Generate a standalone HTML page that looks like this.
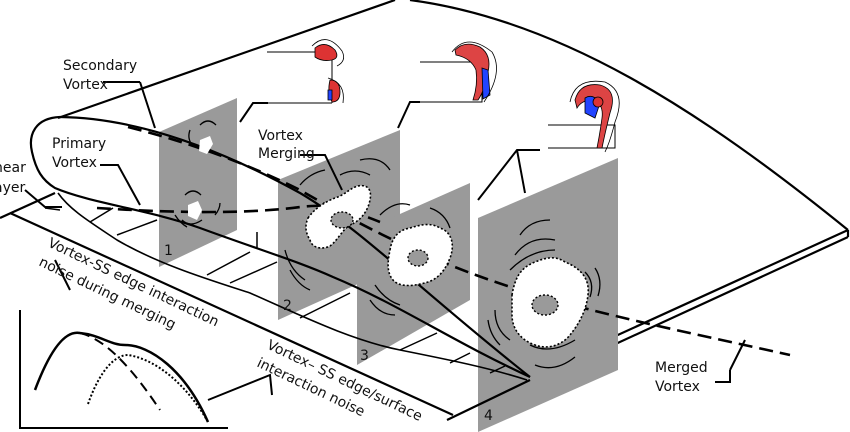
<!DOCTYPE html>
<html><head><meta charset="utf-8"><style>
html,body{margin:0;padding:0;background:#fff}
svg{display:block}
text{font-family:"DejaVu Sans","Liberation Sans",sans-serif;font-size:14px;fill:#111}
</style></head><body>
<svg width="850" height="432" viewBox="0 0 850 432" xmlns="http://www.w3.org/2000/svg">
<g fill="none" stroke="#000" stroke-width="2.2">
<path d="M58,118 L395,0"/>
<path d="M410,0 C560,20 700,110 848,230"/>
<path d="M848,230 L530,375 M848,237 L533,382 M848,230 L848,237 M530,375 L533,382"/>
</g>
<g fill="#9a9a9a">
<polygon points="159,132 237,98 237,230 159,267"/>
<polygon points="278,180 400,130 400,265 278,320"/>
<polygon points="357,233 470,183 470,300 357,365"/>
<polygon points="478,218 618,158 618,370 478,432"/>
</g>
<g fill="none" stroke="#000" stroke-width="2.2">
<path d="M60,117 C150,118 240,160 300,193 C360,228 420,290 530,377"/>
<path d="M60,117 C35,118 28,135 32,152 C36,170 42,180 55,188 C90,203 150,210 200,228 C260,250 300,262 333,277 C400,305 450,340 530,377"/>
<path d="M0,218 L55,193"/>
<path d="M10,213 L453,415"/>
<path d="M447,420 L530,380"/>
</g>
<g fill="none" stroke="#000" stroke-width="1.6">
<path d="M58,193 C70,210 90,222 117,240 C160,265 210,280 250,293 C300,315 350,340 400,350 C450,360 490,368 527,380"/>
</g>
<g fill="none" stroke="#000" stroke-width="1.5">
<path d="M113,208 L90,222"/><path d="M157,220 L117,235"/><path d="M250,252 L207,275"/>
<path d="M277,262 L230,283"/><path d="M350,293 L300,318"/><path d="M437,333 L400,350"/>
<path d="M470,353 L450,363"/><path d="M505,366 L490,373"/><path d="M257,232 L257,248"/>
<path d="M45,208 L60,210"/>
</g>
<g fill="none" stroke="#000" stroke-width="2.6" stroke-dasharray="14,7">
<path d="M128,127 C180,140 240,160 300,190 C360,225 430,262 520,290 C600,315 700,335 790,355"/>
<path d="M97,208 C160,212 240,215 300,207 C330,203 350,210 380,222"/>
</g>
<g stroke="#000" stroke-width="1.6" stroke-dasharray="2,2" fill="#fff">
<path d="M308,218 C315,208 325,202 335,198 C345,195 350,188 358,186 C368,184 372,190 370,200 C368,210 362,220 350,225 C342,230 338,240 330,246 C322,250 312,248 310,240 C305,232 305,225 308,218 Z"/>
<path d="M390,250 C392,238 398,230 410,228 C420,225 430,222 440,228 C452,232 455,245 450,258 C446,268 440,278 428,282 C415,286 400,288 393,280 C386,272 388,260 390,250 Z"/>
<path d="M512,295 C515,278 520,268 535,262 C545,258 555,255 565,262 C580,268 590,278 588,295 C586,312 578,325 570,335 C562,345 548,350 535,345 C520,340 512,328 512,315 Z"/>
</g>
<g stroke="#000" stroke-width="1.4" stroke-dasharray="2,2" fill="#9a9a9a">
<ellipse cx="342" cy="220" rx="11" ry="8"/><ellipse cx="418" cy="258" rx="10" ry="8"/><ellipse cx="545" cy="305" rx="13" ry="10"/>
</g>
<g fill="#fff"><path d="M200,140 l10,-4 l3,8 l-6,10 l-8,-3z"/><path d="M188,205 l10,-4 l4,9 l-5,10 l-9,-4z"/></g>
<g fill="none" stroke="#000" stroke-width="1.3">
<path d="M300,185 q10,-12 25,-15"/><path d="M340,175 q15,-8 30,0"/><path d="M360,160 q20,-5 30,10"/>
<path d="M285,250 q5,20 20,30"/><path d="M290,270 q8,15 20,20"/><path d="M380,215 q15,-15 30,-10"/>
<path d="M430,208 q15,5 20,20"/><path d="M375,285 q10,15 25,20"/><path d="M370,300 q10,15 25,15"/>
<path d="M520,235 q10,-15 30,-15"/><path d="M515,255 q15,-20 40,-15"/><path d="M510,270 q20,-20 45,-20"/>
<path d="M585,272 q10,10 5,25"/><path d="M595,268 q8,12 3,28"/><path d="M495,310 q0,20 15,30"/><path d="M488,320 q2,15 12,25"/>
<path d="M530,345 q20,10 45,-5"/><path d="M535,365 q20,8 40,-8"/>
<path d="M200,125 q8,-8 16,0"/><path d="M185,195 q8,-8 16,0"/><path d="M182,220 q8,8 20,0"/>
<path d="M175,215 q5,8 12,12"/><path d="M215,215 q5,-6 5,-12"/><path d="M190,130 q-3,8 2,15"/>
</g>
<g fill="none" stroke="#000" stroke-width="1">
<path d="M267,52 H332 V103 M253,103 H332"/>
<path d="M420,62 H482 V102 H420"/>
<path d="M548,125 H615 V148 H548"/>
</g>
<g fill="none" stroke="#000" stroke-width="2">
<path d="M240,122 L253,103 L268,103"/>
<path d="M398,128 L410,102 L420,102"/>
<path d="M478,200 L517,150 L540,150 M517,150 L525,193"/>
<path d="M140,82 L155,128 M103,82 L140,82"/>
<path d="M100,165 L118,165 L140,205"/>
<path d="M300,155 L325,155 L342,190"/>
<path d="M55,260 L70,290 M272,395 L270,375 L208,400"/>
<path d="M730,370 L745,340 M715,382 L730,382 L730,370"/>
<path d="M25,190 L45,207 L62,207"/>
</g>
<g stroke="#000" stroke-width="0.8">
<path d="M315,48 q10,-8 20,2 q5,8 -3,10 q-10,2 -17,-3z" fill="#d33"/>
<path d="M330,80 q10,0 10,12 q0,10 -8,10 q-5,-10 -2,-22z" fill="#d33"/>
<path d="M328,90 l4,0 l0,10 l-4,0z" fill="#24f"/>
<path d="M455,50 q10,-10 25,-3 q12,8 8,25 q-3,18 -10,28 l-5,0 q5,-15 3,-30 q-5,-12 -20,-15z" fill="#d44"/>
<path d="M482,68 l6,2 l2,25 l-7,4z" fill="#24f"/>
<path d="M575,100 q5,-18 25,-15 q18,5 10,28 q-5,20 -8,35 l-5,0 q3,-15 5,-30 q2,-15 -10,-18 q-10,0 -15,8z" fill="#d44"/>
<path d="M585,98 q8,-5 15,5 l-5,15 l-10,-5z" fill="#24f"/>
<circle cx="598" cy="102" r="5" fill="#d33"/>
</g>
<g fill="none" stroke="#000" stroke-width="0.8">
<path d="M312,46 q15,-15 30,5 q5,10 -5,15"/><path d="M328,78 q18,5 15,25"/>
<path d="M452,52 q15,-20 40,0 q12,20 -8,50"/><path d="M570,102 q5,-25 35,-20 q22,10 10,40 q-5,20 -10,30"/>
</g>
<g fill="none" stroke="#000" stroke-width="2">
<path d="M20,310 V428 H228"/>
<path d="M35,390 C50,350 65,330 80,333 C100,335 110,345 125,345 C150,345 185,370 208,422" stroke-width="2.5"/>
<path d="M80,333 C110,340 140,380 160,410" stroke-dasharray="10,6"/>
<path d="M88,404 C100,370 115,355 128,355 C160,360 190,390 208,422" stroke-dasharray="2,2"/>
</g>
<g font-size="15.5">
<text x="63" y="70">Secondary</text><text x="63" y="89">Vortex</text>
<text x="52" y="148">Primary</text><text x="52" y="167">Vortex</text>
<text x="-6" y="172">hear</text><text x="-6" y="192">ayer</text>
<text x="258" y="140">Vortex</text><text x="258" y="158">Merging</text>
<text x="655" y="372">Merged</text><text x="655" y="391">Vortex</text>
</g>
<text x="164" y="255" font-size="13">1</text><text x="283" y="310" font-size="13">2</text>
<text x="360" y="360" font-size="13">3</text><text x="484" y="420" font-size="13">4</text>
<g font-size="16.5">
<text transform="translate(47,246) rotate(25.5)">Vortex-SS edge interaction</text>
<text transform="translate(38,265) rotate(25.5)">noise during merging</text>
<text transform="translate(266,348) rotate(25.5)">Vortex– SS edge/surface</text>
<text transform="translate(256,366) rotate(25.5)">interaction noise</text>
</g>
</svg>
</body></html>
